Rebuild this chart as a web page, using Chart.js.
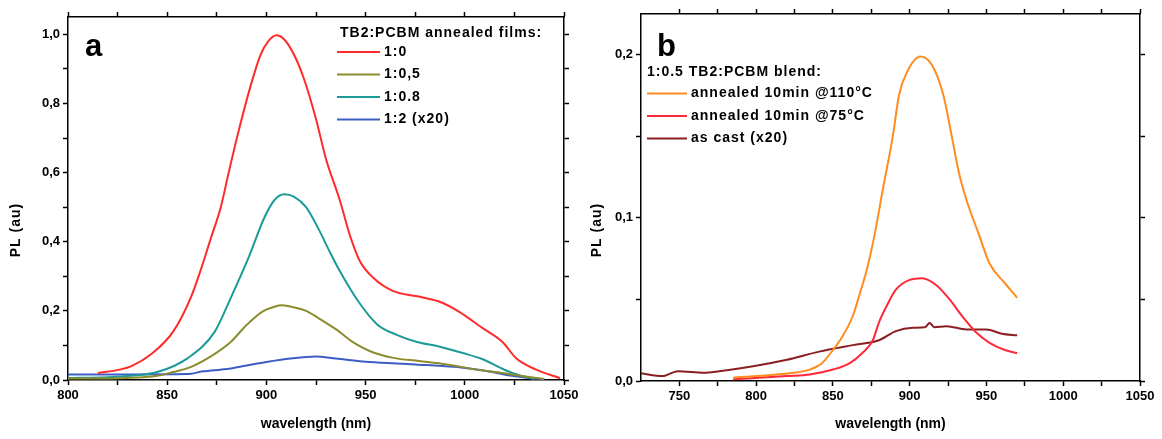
<!DOCTYPE html>
<html>
<head>
<meta charset="utf-8">
<script src="https://cdn.jsdelivr.net/npm/chart.js@4/dist/chart.umd.min.js"></script>
<style>
  body { margin: 0; background: #fff; }
  #wrap { position: relative; width: 1162px; height: 439px; }
  canvas { position: absolute; top: 0; }
</style>
</head>
<body>
<div id="wrap">
  <canvas id="chartA" width="585" height="439" style="left:0"></canvas>
  <canvas id="chartB" width="577" height="439" style="left:585px"></canvas>
</div>
<script>
// ---- panel a : TB2:PCBM annealed films ----
const wlA_10 = [815, 826, 832, 842, 853, 862, 867, 872, 877, 881, 886, 892, 897, 901, 905, 909, 914, 919, 925, 930, 937, 942, 947, 954, 964, 976, 987, 997, 1009, 1019, 1026, 1036, 1048];
const plA_10 = [0.02, 0.03, 0.04, 0.075, 0.14, 0.24, 0.32, 0.41, 0.50, 0.60, 0.72, 0.85, 0.94, 0.98, 0.997, 0.985, 0.94, 0.87, 0.755, 0.64, 0.52, 0.42, 0.345, 0.295, 0.257, 0.242, 0.227, 0.198, 0.15, 0.11, 0.062, 0.03, 0.005];

const wlA_105 = [800, 830, 845, 853, 862, 873, 882, 890, 898, 904, 908, 914, 920, 926, 935, 944, 952, 964, 977, 991, 1006, 1019, 1028, 1040];
const plA_105 = [0.004, 0.006, 0.012, 0.023, 0.038, 0.072, 0.11, 0.159, 0.198, 0.212, 0.216, 0.21, 0.2, 0.18, 0.147, 0.108, 0.084, 0.064, 0.055, 0.045, 0.03, 0.02, 0.012, 0.003];

const wlA_108 = [800, 820, 832, 845, 860, 874, 882, 891, 899, 904, 909, 914, 920, 926, 932, 937, 946, 956, 966, 976, 987, 999, 1009, 1018, 1025, 1035];
const plA_108 = [0.006, 0.008, 0.012, 0.023, 0.062, 0.14, 0.237, 0.354, 0.47, 0.52, 0.537, 0.53, 0.50, 0.44, 0.37, 0.315, 0.23, 0.16, 0.13, 0.11, 0.097, 0.078, 0.06, 0.035, 0.018, 0.003];

const wlA_12 = [800, 830, 860, 868, 880, 890, 900, 912, 925, 935, 952, 975, 1000, 1011, 1023, 1032, 1040];
const plA_12 = [0.016, 0.016, 0.017, 0.025, 0.032, 0.042, 0.052, 0.062, 0.068, 0.062, 0.052, 0.045, 0.035, 0.026, 0.013, 0.006, 0.002];

const xTicksA = [800, 825, 850, 875, 900, 925, 950, 975, 1000, 1025, 1050];
const xLabelsA = [800, 850, 900, 950, 1000, 1050];
const yTicksA = [0, 0.1, 0.2, 0.3, 0.4, 0.5, 0.6, 0.7, 0.8, 0.9, 1.0];
const yLabelsA = [0, 0.2, 0.4, 0.6, 0.8, 1.0];

// ---- panel b : 1:0.5 TB2:PCBM blend ----
const wlB_110 = [785, 824, 835, 843, 850, 856, 863, 867, 872, 877, 883, 889, 893, 898, 907, 915, 922, 927, 932, 937, 945, 952, 962, 970];
const plB_110 = [0.002, 0.005, 0.007, 0.011, 0.019, 0.027, 0.040, 0.052, 0.068, 0.089, 0.12, 0.150, 0.175, 0.189, 0.199, 0.193, 0.175, 0.152, 0.128, 0.111, 0.09, 0.072, 0.06, 0.051];

const wlB_75 = [785, 820, 835, 850, 861, 869, 876, 880, 885, 891, 900, 908, 917, 926, 934, 943, 952, 962, 970];
const plB_75 = [0.001, 0.003, 0.004, 0.007, 0.011, 0.017, 0.025, 0.036, 0.046, 0.056, 0.062, 0.063, 0.059, 0.050, 0.040, 0.030, 0.0234, 0.019, 0.017];

const wlB_cast = [725, 739, 749, 766, 776, 798, 820, 841, 863, 880, 891, 902, 910, 913, 916, 924, 937, 950, 960, 970];
const plB_cast = [0.0047, 0.003, 0.006, 0.005, 0.006, 0.009, 0.013, 0.018, 0.022, 0.025, 0.0306, 0.0326, 0.033, 0.0355, 0.033, 0.0336, 0.0316, 0.0316, 0.029, 0.028];

const xTicksB = [750, 775, 800, 825, 850, 875, 900, 925, 950, 975, 1000, 1025, 1050];
const xLabelsB = [750, 800, 850, 900, 950, 1000, 1050];
const yTicksB = [0, 0.05, 0.1, 0.15, 0.2];
const yLabelsB = [0, 0.1, 0.2];

const pts = (xs, ys) => xs.map((x, i) => ({ x: x, y: ys[i] }));
const has = (arr, v) => arr.some(a => Math.abs(a - v) < 1e-6);
const comma = v => v.toFixed(1).replace('.', ',');

const tickFont = { family: '"Liberation Sans", Arial, sans-serif', size: 13, weight: 'bold' };

// letter, legend and y title drawn on top of the chart
const panelText = {
  id: 'panelText',
  afterDraw(chart, args, o) {
    const ctx = chart.ctx;
    ctx.save();
    ctx.fillStyle = '#000';
    ctx.textBaseline = 'alphabetic';
    ctx.font = 'bold 31px "Liberation Sans", Arial';
    ctx.fillText(o.letter, o.letterX, o.letterY);

    ctx.letterSpacing = '1px';
    ctx.textBaseline = 'middle';
    ctx.font = 'bold 14px "Liberation Sans", Arial';
    ctx.fillText(o.title, o.titleX, o.titleY);
    chart.data.datasets.forEach((ds, i) => {
      const y = o.rowY + i * o.rowH;
      ctx.strokeStyle = ds.borderColor;
      ctx.lineWidth = 2;
      ctx.beginPath();
      ctx.moveTo(o.lineX, y);
      ctx.lineTo(o.lineX + o.lineW, y);
      ctx.stroke();
      ctx.fillText(ds.label, o.lineX + o.lineW + 4, y);
    });

    ctx.translate(o.ytX, o.ytY);
    ctx.rotate(-Math.PI / 2);
    ctx.textAlign = 'center';
    ctx.font = 'bold 14px "Liberation Sans", Arial';
    ctx.fillText('PL (au)', 0, 0);
    ctx.restore();
  }
};

function axis(pos, min, max, ticks, labels, fmt, size, extra) {
  const horiz = pos === 'bottom' || pos === 'top';
  const showLabels = pos === 'bottom' || pos === 'left';
  return Object.assign({
    type: 'linear',
    position: pos,
    min: min,
    max: max,
    afterBuildTicks: s => { s.ticks = ticks.map(v => ({ value: v })); },
    afterFit: s => { if (horiz) s.height = size; else s.width = size; },
    ticks: {
      display: showLabels,
      autoSkip: false,
      maxRotation: 0,
      padding: 3,
      color: '#000',
      font: tickFont,
      callback: v => has(labels, v) ? fmt(v) : ''
    },
    grid: { drawOnChartArea: false, drawTicks: true, tickLength: 5, color: '#000', tickWidth: 1.5 },
    border: { display: true, color: '#000', width: 1.5 }
  }, extra || {});
}

const xTitle = {
  display: true,
  text: 'wavelength (nm)',
  color: '#000',
  font: { family: '"Liberation Sans", Arial, sans-serif', size: 14, weight: 'bold' },
  padding: { top: 0, bottom: 6 }
};

function line(label, color, xs, ys) {
  return { label: label, data: pts(xs, ys), borderColor: color, borderWidth: 2,
           xAxisID: 'x', yAxisID: 'y', pointRadius: 0, cubicInterpolationMode: 'monotone', fill: false };
}

new Chart(document.getElementById('chartA'), {
  type: 'line',
  data: {
    datasets: [
      line('1:0', '#ff2a2a', wlA_10, plA_10),
      line('1:0,5', '#8c8c2e', wlA_105, plA_105),
      line('1:0.8', '#1c9a98', wlA_108, plA_108),
      line('1:2 (x20)', '#3c5ec4', wlA_12, plA_12)
    ]
  },
  options: {
    responsive: false,
    animation: false,
    layout: { padding: 0 },
    plugins: {
      legend: { display: false },
      tooltip: { enabled: false },
      panelText: {
        letter: 'a', letterX: 85, letterY: 56,
        title: 'TB2:PCBM annealed films:', titleX: 340, titleY: 33,
        lineX: 337, lineW: 43, rowY: 52, rowH: 22.5,
        ytX: 16, ytY: 230
      }
    },
    scales: {
      x: axis('bottom', 800, 1050, xTicksA, xLabelsA, v => String(v), 59, { title: xTitle }),
      xTop: axis('top', 800, 1050, xTicksA, [], v => '', 17),
      y: axis('left', 0, 1.05, yTicksA, yLabelsA, comma, 68),
      yRight: axis('right', 0, 1.05, yTicksA, [], v => '', 21)
    }
  },
  plugins: [panelText]
});

new Chart(document.getElementById('chartB'), {
  type: 'line',
  data: {
    datasets: [
      line('annealed 10min @110°C', '#ff8c1e', wlB_110, plB_110),
      line('annealed 10min @75°C', '#ff2838', wlB_75, plB_75),
      line('as cast (x20)', '#8b1e22', wlB_cast, plB_cast)
    ]
  },
  options: {
    responsive: false,
    animation: false,
    layout: { padding: 0 },
    plugins: {
      legend: { display: false },
      tooltip: { enabled: false },
      panelText: {
        letter: 'b', letterX: 72, letterY: 56,
        title: '1:0.5 TB2:PCBM blend:', titleX: 62, titleY: 72,
        lineX: 62, lineW: 40, rowY: 93.5, rowH: 22.5,
        ytX: 12, ytY: 230
      }
    },
    scales: {
      x: axis('bottom', 725, 1050, xTicksB, xLabelsB, v => String(v), 58, { title: xTitle }),
      xTop: axis('top', 725, 1050, xTicksB, [], v => '', 14),
      y: axis('left', 0, 0.225, yTicksB, yLabelsB, comma, 56),
      yRight: axis('right', 0, 0.225, yTicksB, [], v => '', 22)
    }
  },
  plugins: [panelText]
});
</script>
</body>
</html>
